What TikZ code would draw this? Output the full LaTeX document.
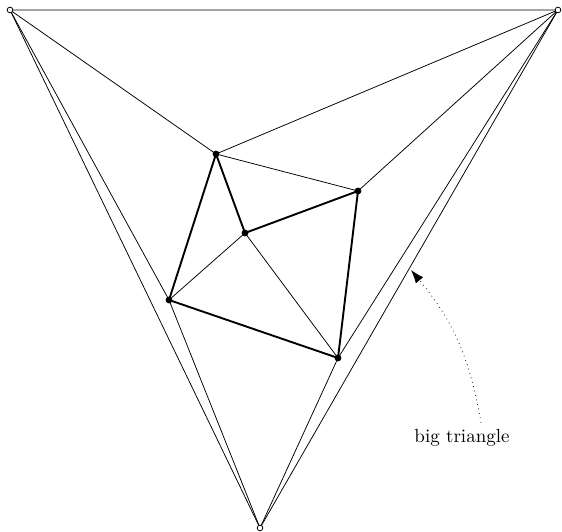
\documentclass[tikz,border=0pt]{standalone}
\usetikzlibrary{arrows.meta}
\begin{document}
\begin{tikzpicture}[x=0.0185cm,y=0.0185cm]
      \useasboundingbox (0,0) rectangle (562,532);

      % Titik sudut segitiga besar
      \coordinate (A) at (10,522);
      \coordinate (B) at (558,522);
      \coordinate (C) at (260,4);

      % Titik dalam
      \coordinate (p1) at (216,378);
      \coordinate (p2) at (358,341);
      \coordinate (p3) at (245,299);
      \coordinate (p4) at (169,232);
      \coordinate (p5) at (338,174);

      % Segitiga besar
      \draw (A)--(B)--(C)--cycle;

      % Garis ke titik luar
      \draw (A)--(p1)--(B);
      \draw (B)--(p2);
      \draw (A)--(p4)--(C);
      \draw (B)--(p5)--(C);

      % Garis tipis dalam
      \draw (p1)--(p2);
      \draw (p3)--(p4);
      \draw (p3)--(p5);

      % Garis tebal
      \draw[line width=1pt,line join=round] (p3)--(p1)--(p4)--(p5)--(p2)--(p3);

      % Titik
      \foreach \i in {1,...,5} \fill (p\i) circle (1.8pt);
      \foreach \p in {A,B,C} \draw[fill=white] (\p) circle (1.5pt);

      % Label
      \node (lbl) at (462,94) {big triangle};
      \coordinate (T) at (411,262);
      \draw[dotted,-{Latex[length=7pt,width=5pt]}] ([xshift=10pt]lbl.north) to[bend right=15] (T);

    \end{tikzpicture}
\end{document}
